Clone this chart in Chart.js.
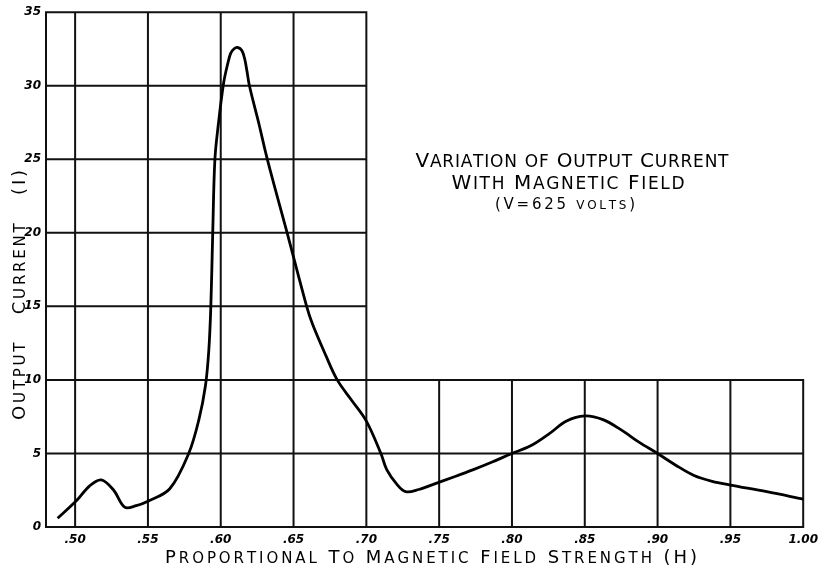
<!DOCTYPE html>
<html>
<head>
<meta charset="utf-8">
<title>Variation of Output Current with Magnetic Field</title>
<script src="https://cdn.jsdelivr.net/npm/chart.js@4.4.0/dist/chart.umd.min.js"></script>
<style>
  html, body { margin: 0; padding: 0; background: #fff; }
  #wrap { width: 824px; height: 568px; }
</style>
</head>
<body>
<div id="wrap"><canvas id="myChart"></canvas></div>
<script>
// curve: H (proportional) vs output current I
var fieldH = [0.488, 0.501, 0.510, 0.518, 0.5265, 0.534, 0.542, 0.550, 0.565, 0.578,
  0.585, 0.5895, 0.5918, 0.5932, 0.5945, 0.596, 0.5985, 0.602, 0.6048, 0.6068,
  0.609, 0.6116, 0.6145, 0.6165, 0.618, 0.6197, 0.626, 0.632, 0.6456, 0.659,
  0.663, 0.672, 0.680, 0.690, 0.700, 0.710, 0.714, 0.721, 0.727, 0.736,
  0.746, 0.760, 0.7735, 0.786, 0.800, 0.8125, 0.825, 0.8375, 0.850, 0.8625,
  0.875, 0.8875, 0.900, 0.9125, 0.925, 0.9375, 0.950, 0.975, 1.000];
var currentI = [0.6, 1.8, 2.8, 3.2, 2.5, 1.35, 1.45, 1.75, 2.6, 5.0,
  7.3, 9.6, 12, 15, 20, 25, 27.5, 30.2, 31.5, 32.2,
  32.5, 32.6, 32.4, 31.8, 31.0, 30.0, 27.5, 25, 20, 15,
  13.8, 11.7, 10, 8.6, 7.2, 5.0, 3.9, 2.9, 2.4, 2.55,
  2.9, 3.4, 3.9, 4.4, 5.0, 5.5, 6.3, 7.2, 7.55, 7.3,
  6.6, 5.75, 5.0, 4.2, 3.5, 3.1, 2.85, 2.4, 1.9];

var xTicks = [0.50, 0.55, 0.60, 0.65, 0.70, 0.75, 0.80, 0.85, 0.90, 0.95, 1.00];
var xTickLabels = ['.50', '.55', '.60', '.65', '.70', '.75', '.80', '.85', '.90', '.95', '1.00'];
var yTicks = [0, 5, 10, 15, 20, 25, 30, 35];
var yTickLabels = ['0', '5', '10', '15', '20', '25', '30', '35'];

var xMin = 0.48, xMax = 1.00, yMin = 0, yMax = 35;
var upperGridEnd = 0.70;   // ruling above I=10 stops at .70
var lowerGridTop = 10;     // ruling right of .70 stops at I=10

var points = fieldH.map(function(h, i) { return { x: h, y: currentI[i] }; });

// the ruled grid is L-shaped, so draw it by hand from the scales
var gridPlugin = {
  id: 'handGrid',
  beforeDatasetsDraw: function(chart) {
    var ctx = chart.ctx, sx = chart.scales.x, sy = chart.scales.y;
    ctx.save();
    ctx.strokeStyle = '#111';
    ctx.lineWidth = 2;
    ctx.lineCap = 'square';
    ctx.beginPath();
    ctx.moveTo(sx.getPixelForValue(xMin), sy.getPixelForValue(yMin));
    ctx.lineTo(sx.getPixelForValue(xMin), sy.getPixelForValue(yMax));
    xTicks.forEach(function(v) {
      var top = v <= upperGridEnd ? yMax : lowerGridTop;
      ctx.moveTo(sx.getPixelForValue(v), sy.getPixelForValue(yMin));
      ctx.lineTo(sx.getPixelForValue(v), sy.getPixelForValue(top));
    });
    yTicks.forEach(function(v) {
      var right = v <= lowerGridTop ? xMax : upperGridEnd;
      ctx.moveTo(sx.getPixelForValue(xMin), sy.getPixelForValue(v));
      ctx.lineTo(sx.getPixelForValue(right), sy.getPixelForValue(v));
    });
    ctx.stroke();
    ctx.restore();
  }
};

// hand lettering: capitals big, the rest as smaller capitals, spread to a width
function drawCaps(ctx, text, cx, baseY, big, small, width) {
  var parts = [], total = 0;
  for (var i = 0; i < text.length; i++) {
    var ch = text[i];
    var size = ch !== ch.toUpperCase() ? small : big;
    ctx.font = size + 'px "DejaVu Sans"';
    var c = ch.toUpperCase();
    var w = ctx.measureText(c).width;
    parts.push({ c: c, size: size, w: w });
    total += w;
  }
  var gap = parts.length > 1 ? (width - total) / (parts.length - 1) : 0;
  var x = cx - width / 2;
  ctx.textAlign = 'left';
  ctx.textBaseline = 'alphabetic';
  parts.forEach(function(p) {
    ctx.font = p.size + 'px "DejaVu Sans"';
    ctx.fillText(p.c, x, baseY);
    x += p.w + gap;
  });
}

var textPlugin = {
  id: 'plateText',
  afterDraw: function(chart) {
    var ctx = chart.ctx;
    ctx.save();
    ctx.fillStyle = '#000';
    drawCaps(ctx, 'Variation of Output Current', 572, 167, 20, 17, 313);
    drawCaps(ctx, 'With Magnetic Field', 568, 189, 20, 17, 233);
    drawCaps(ctx, '(V=625 volts)', 565, 209, 15, 12, 140);
    drawCaps(ctx, 'Proportional To Magnetic Field Strength (H)', 431, 563, 18, 15, 532);
    ctx.translate(25, 295);
    ctx.rotate(-Math.PI / 2);
    drawCaps(ctx, 'Output   Current   (I)', 0, 0, 18, 15, 250);
    ctx.restore();
  }
};

var ctx = document.getElementById('myChart').getContext('2d');

var myChart = new Chart(ctx, {
  type: 'line',
  data: {
    datasets: [{
      label: 'Output current',
      data: points,
      borderColor: '#000',
      borderWidth: 2.8,
      pointRadius: 0,
      fill: false,
      tension: 0.35
    }]
  },
  options: {
    responsive: true,
    maintainAspectRatio: false,
    animation: false,
    layout: { padding: { top: 12, right: 12, left: 0, bottom: 0 } },
    plugins: {
      legend: { display: false },
      tooltip: { enabled: false }
    },
    scales: {
      x: {
        type: 'linear',
        min: xMin,
        max: xMax,
        grid: { display: false, drawTicks: false },
        border: { display: false },
        afterBuildTicks: function(scale) {
          scale.ticks = xTicks.map(function(v) { return { value: v }; });
        },
        afterFit: function(scale) { scale.height = 41; },
        ticks: {
          autoSkip: false,
          maxRotation: 0,
          padding: 6,
          color: '#000',
          font: { family: 'DejaVu Sans', size: 12, style: 'italic', weight: 'bold' },
          callback: function(value, index) { return xTickLabels[index]; }
        }
      },
      y: {
        type: 'linear',
        min: yMin,
        max: yMax,
        grid: { display: false, drawTicks: false },
        border: { display: false },
        afterBuildTicks: function(scale) {
          scale.ticks = yTicks.map(function(v) { return { value: v }; });
        },
        afterFit: function(scale) { scale.width = 46; },
        ticks: {
          padding: 5,
          color: '#000',
          font: { family: 'DejaVu Sans', size: 12, style: 'italic', weight: 'bold' },
          callback: function(value, index) { return yTickLabels[index]; }
        }
      }
    }
  },
  plugins: [gridPlugin, textPlugin]
});
</script>
</body>
</html>
